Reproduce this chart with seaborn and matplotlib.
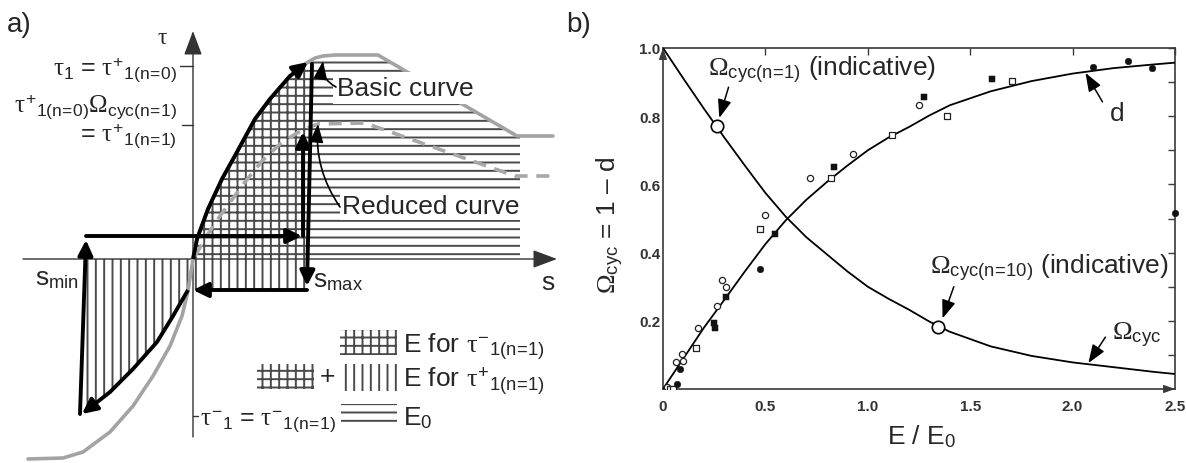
import matplotlib
matplotlib.use("Agg")
import matplotlib.pyplot as plt
import seaborn as sns
import pandas as pd

# ======================= DATA =======================
# ---- Panel a: schematic bond-slip loop (diagram units: s, tau) ----
basic_s   = [-1.65, -1.30, -1.10, -0.83, -0.60, -0.40, -0.23, -0.11, -0.05, 0.00, 0.04, 0.15, 0.29,
             0.44, 0.62, 0.77, 0.97, 1.07, 1.15, 1.22, 1.30, 1.42, 1.85, 3.24, 3.60]
basic_tau = [-2.00, -1.99, -1.93, -1.73, -1.47, -1.17, -0.87, -0.57, -0.32, 0.00, 0.20, 0.50, 0.80,
             1.07, 1.40, 1.60, 1.83, 1.91, 1.97, 2.01, 2.03, 2.04, 2.04, 1.23, 1.23]
reduced_s   = [0.02, 0.15, 0.27, 0.52, 0.69, 0.87, 1.04, 1.17, 1.25, 1.72, 3.22, 3.60]
reduced_tau = [0.03, 0.25, 0.43, 0.77, 0.98, 1.15, 1.26, 1.32, 1.35, 1.36, 0.83, 0.83]
loading_s   = [0.00, 0.04, 0.15, 0.29, 0.44, 0.62, 0.77, 0.97, 1.15]
loading_tau = [0.00, 0.20, 0.50, 0.80, 1.07, 1.40, 1.60, 1.83, 1.97]
unloading_s   = [-0.05, -0.20, -0.36, -0.60, -0.83, -1.11]
unloading_tau = [-0.31, -0.57, -0.83, -1.10, -1.33, -1.55]
S_PEAK, TAU_PEAK = 1.19, 1.95
S_MAX, TAU_SMAX = 1.14, -0.31
S_MIN_BOT, S_MIN_TOP = -1.13, -1.07
TAU_RELOAD, S_RELOAD, TAU_RELOAD_TOP = 0.23, 1.10, 1.27
TAU1, TAU1_N1, TAU_NEG = 1.93, 1.34, -1.57
E0_RIGHT = 3.27

# ---- Panel b: damage vs. normalised dissipated energy ----
x_curve = [0.0, 0.1, 0.2, 0.3, 0.4, 0.5, 0.6, 0.7, 0.8, 0.9, 1.0, 1.1, 1.2, 1.3, 1.4, 1.6, 1.8, 2.0,
           2.2, 2.4, 2.5]
omega_cyc = [1.0, 0.91, 0.822, 0.737, 0.655, 0.575, 0.505, 0.445, 0.395, 0.345, 0.30, 0.265, 0.233,
             0.198, 0.168, 0.125, 0.097, 0.078, 0.064, 0.050, 0.044]
d_curve = [0.0, 0.09, 0.18, 0.262, 0.345, 0.425, 0.495, 0.555, 0.607, 0.655, 0.70, 0.737, 0.768,
           0.802, 0.832, 0.873, 0.903, 0.925, 0.941, 0.952, 0.957]
open_circ_x = [0.02, 0.065, 0.091, 0.099, 0.172, 0.262, 0.287, 0.306, 0.497, 0.719, 0.93, 1.25]
open_circ_y = [0.005, 0.078, 0.103, 0.083, 0.178, 0.244, 0.319, 0.299, 0.51, 0.62, 0.69, 0.833]
open_sq_x = [0.035, 0.05, 0.161, 0.473, 0.82, 1.116, 1.387, 1.706]
open_sq_y = [0.0, 0.0, 0.12, 0.469, 0.62, 0.745, 0.80, 0.902]
fill_circ_x = [0.067, 0.083, 0.473, 2.102, 2.27, 2.387, 2.5]
fill_circ_y = [0.015, 0.059, 0.353, 0.943, 0.963, 0.941, 0.515]
fill_sq_x = [0.254, 0.251, 0.31, 0.546, 0.837, 1.273, 1.608]
fill_sq_y = [0.18, 0.195, 0.27, 0.456, 0.652, 0.856, 0.909]
mark_x = [0.265, 1.345]
mark_y = [0.77, 0.183]
xtick_vals = [0, 0.5, 1.0, 1.5, 2.0, 2.5]
xtick_labels = ["0", "0.5", "1.0", "1.5", "2.0", "2.5"]
ytick_vals = [0.2, 0.4, 0.6, 0.8, 1.0]
ytick_labels = ["0.2", "0.4", "0.6", "0.8", "1.0"]
ytick_minor = [0.1, 0.3, 0.5, 0.7, 0.9]

# ======================= STYLE =======================
sns.set_theme(style="white")
plt.rcParams["font.family"] = ["Liberation Sans", "DejaVu Sans"]
plt.rcParams["mathtext.fontset"] = "custom"
plt.rcParams["mathtext.rm"] = "Liberation Serif"
plt.rcParams["mathtext.it"] = "Liberation Serif"
plt.rcParams["mathtext.sf"] = "Liberation Sans"
plt.rcParams["mathtext.bf"] = "Liberation Sans:bold"
plt.rcParams["hatch.linewidth"] = 1.4

FS = 19
FSL = 18
fig = plt.figure(figsize=(11.86, 4.64), dpi=100)


def sub(txt):
    """sans-serif sub/superscript content with a tight '=' sign"""
    return r"\mathsf{" + txt.replace("=", r"\!=\!") + "}"


def arrow(ax, start, end, lw, ms=20, hl=0.45, hw=0.22, color="black", conn="arc3", z=6):
    ax.annotate("", xy=end, xytext=start, xycoords="data", textcoords="data",
                arrowprops=dict(arrowstyle=f"-|>,head_length={hl},head_width={hw}",
                                color=color, lw=lw, shrinkA=0, shrinkB=0,
                                mutation_scale=ms, connectionstyle=conn),
                zorder=z)


# ======================= PANEL A =======================
ax = fig.add_axes([0, 0, 560 / 1186, 1])
ax.set_xlim(-1.93, 3.67)
ax.set_ylim(-2.04, 2.60)
ax.axis("off")

HC = "#4a4a4a"
# hatched areas
ax.fill(loading_s + [loading_s[-1], loading_s[-1]], loading_tau + [loading_tau[-1], 0],
        facecolor="none", edgecolor=HC, hatch="++", linewidth=0, zorder=1)
ax.fill([S_MIN_TOP, S_MAX, S_MAX] + unloading_s + [S_MIN_BOT],
        [0, 0, TAU_SMAX] + unloading_tau + [unloading_tau[-1]],
        facecolor="none", edgecolor=HC, hatch="||", linewidth=0, zorder=1)
top_pts = [(s, t) for s, t in zip(basic_s, basic_tau) if loading_s[-1] <= s <= 3.24]
ax.fill([loading_s[-1]] + [p[0] for p in top_pts] + [E0_RIGHT, E0_RIGHT],
        [0] + [p[1] for p in top_pts] + [top_pts[-1][1], 0],
        facecolor="none", edgecolor=HC, hatch="--", linewidth=0, zorder=1)

# axes of the diagram
arrow(ax, (-1.70, 0), (3.64, 0), lw=1.0, ms=20, hl=0.75, hw=0.28, color="#333333", z=2)
arrow(ax, (0, -1.78), (0, 2.28), lw=1.0, ms=20, hl=0.75, hw=0.28, color="#333333", z=2)
ax.plot([-0.13, 0], [TAU1, TAU1], color="#333333", lw=1.0)
ax.plot([-0.11, 0], [TAU1_N1, TAU1_N1], color="#333333", lw=1.0)
ax.plot([0, 0.05], [TAU_NEG, TAU_NEG], color="#333333", lw=1.0)

# basic and reduced curves
sns.lineplot(x=basic_s, y=basic_tau, sort=False, ax=ax, color="#a3a3a3", lw=2.6,
             solid_joinstyle="round", zorder=2)
ax.plot(reduced_s, reduced_tau, color="#a8a8a8", lw=2.6, dashes=(3.6, 2.4), zorder=2)

# black loading loop
BLW = 2.8
ax.plot(loading_s[:-1], loading_tau[:-1], color="black", lw=BLW, solid_capstyle="butt", zorder=5)
arrow(ax, (loading_s[-2], loading_tau[-2]), (loading_s[-1], loading_tau[-1]), lw=BLW)
arrow(ax, (S_PEAK, TAU_PEAK), (S_MAX, TAU_SMAX + 0.04), lw=BLW)
arrow(ax, (S_MAX, TAU_SMAX), (0.0, TAU_SMAX), lw=BLW)
ax.plot(unloading_s[:-1], unloading_tau[:-1], color="black", lw=BLW, solid_capstyle="butt", zorder=5)
arrow(ax, (unloading_s[-2], unloading_tau[-2]), (unloading_s[-1], unloading_tau[-1]), lw=BLW)
arrow(ax, (S_MIN_BOT, unloading_tau[-1]), (S_MIN_TOP, TAU_RELOAD - 0.04), lw=BLW)
arrow(ax, (S_MIN_TOP, TAU_RELOAD), (S_RELOAD - 0.01, TAU_RELOAD), lw=BLW)
arrow(ax, (S_RELOAD, TAU_RELOAD), (S_RELOAD, TAU_RELOAD_TOP), lw=BLW)

# labels
ax.text(-0.31, 2.22, r"$\tau$", fontsize=17, ha="center", va="center")
ax.text(-0.16, 1.85, r"$\tau_{\mathsf{1}}$ = $\tau^{\mathsf{+}}{}_{" + sub("1(n=0)") + "}$",
        fontsize=FSL, ha="right", va="baseline")
ax.text(-0.16, 1.48, r"$\tau^{\mathsf{+}}{}_{" + sub("1(n=0)") + r"}\Omega_{" + sub("cyc(n=1)") + "}$",
        fontsize=FSL, ha="right", va="baseline")
ax.text(-0.16, 1.19, r"= $\tau^{\mathsf{+}}{}_{" + sub("1(n=1)") + "}$",
        fontsize=FSL, ha="right", va="baseline")
ax.text(0.07, -1.65, r"$\tau^{\mathsf{-}}{}_{\mathsf{1}}$ = $\tau^{\mathsf{-}}{}_{" + sub("1(n=1)") + "}$",
        fontsize=FSL, ha="left", va="baseline")
ax.text(-1.58, -0.25, r"s$_{\mathsf{min}}$", fontsize=FS, ha="left", va="baseline")
ax.text(1.20, -0.27, r"s$_{\mathsf{max}}$", fontsize=FS, ha="left", va="baseline")
ax.text(3.48, -0.30, "s", fontsize=FS, ha="left", va="baseline")

ax.text(1.44, 1.71, "Basic curve", fontsize=FS, ha="left", va="center", zorder=4,
        bbox=dict(boxstyle="square,pad=0.14", fc="white", ec="none"))
ax.text(1.49, 0.53, "Reduced curve", fontsize=FS, ha="left", va="center", zorder=4,
        bbox=dict(boxstyle="square,pad=0.08", fc="white", ec="none"))
arrow(ax, (1.43, 1.72), (1.30, 1.98), lw=1.2, ms=14, hl=0.8, hw=0.3, conn="arc3,rad=-0.35")
arrow(ax, (1.47, 0.52), (1.25, 1.35), lw=1.2, ms=14, hl=0.8, hw=0.3, conn="arc3,rad=-0.18")

# legend swatches
ax.fill([1.47, 2.04, 2.04, 1.47], [-0.71, -0.71, -0.96, -0.96], facecolor="none", edgecolor=HC,
        hatch="++", linewidth=0)
ax.fill([0.64, 1.21, 1.21, 0.64], [-1.05, -1.05, -1.30, -1.30], facecolor="none", edgecolor=HC,
        hatch="++", linewidth=0)
ax.fill([1.48, 2.04, 2.04, 1.48], [-1.05, -1.05, -1.32, -1.32], facecolor="none", edgecolor=HC,
        hatch="||", linewidth=0)
ax.fill([1.48, 2.04, 2.04, 1.48], [-1.45, -1.45, -1.68, -1.68], facecolor="none", edgecolor=HC,
        hatch="--", linewidth=0)
ax.text(1.34, -1.17, "+", fontsize=FS, ha="center", va="center")
ax.text(2.10, -0.93, r"E for $\tau^{\mathsf{-}}{}_{" + sub("1(n=1)") + "}$", fontsize=FS,
        ha="left", va="baseline")
ax.text(2.10, -1.27, r"E for $\tau^{\mathsf{+}}{}_{" + sub("1(n=1)") + "}$", fontsize=FS,
        ha="left", va="baseline")
ax.text(2.10, -1.65, r"E$_{\mathsf{0}}$", fontsize=FS, ha="left", va="baseline")

fig.text(7 / 1186, 1 - 25 / 464, "a)", fontsize=20, ha="left", va="center")
fig.text(566 / 1186, 1 - 25 / 464, "b)", fontsize=20, ha="left", va="center")

# ======================= PANEL B =======================
bx = fig.add_axes([663 / 1186, (464 - 390) / 464, 512 / 1186, 341 / 464])
bx.set_xlim(0, 2.5)
bx.set_ylim(0, 1.0)
FC = "#3a3a3a"
for sp in bx.spines.values():
    sp.set_color(FC)
    sp.set_linewidth(1.2)

sns.lineplot(x=x_curve, y=omega_cyc, ax=bx, color="black", lw=1.3, zorder=3)
sns.lineplot(x=x_curve, y=d_curve, ax=bx, color="black", lw=1.3, zorder=3)
sns.scatterplot(x=open_circ_x, y=open_circ_y, ax=bx, marker="o", s=20, facecolor="white",
                edgecolor="#222222", linewidth=0.9, zorder=4)
sns.scatterplot(x=open_sq_x, y=open_sq_y, ax=bx, marker="s", s=16, facecolor="white",
                edgecolor="#222222", linewidth=0.9, zorder=4)
sns.scatterplot(x=fill_circ_x, y=fill_circ_y, ax=bx, marker="o", s=22, color="#111111",
                edgecolor="#111111", zorder=4, clip_on=False)
sns.scatterplot(x=fill_sq_x, y=fill_sq_y, ax=bx, marker="s", s=20, color="#111111",
                edgecolor="#111111", zorder=4)
sns.scatterplot(x=mark_x, y=mark_y, ax=bx, marker="o", s=80, facecolor="white",
                edgecolor="black", linewidth=1.2, zorder=5)

bx.set_xticks(xtick_vals)
bx.set_xticklabels(xtick_labels)
bx.set_yticks(ytick_vals)
bx.set_yticklabels(ytick_labels)
bx.set_yticks(ytick_minor, minor=True)
bx.tick_params(axis="both", which="both", direction="in", top=True, right=True, color=FC,
               width=1.0, labelcolor="#333333", labelsize=11)
bx.tick_params(axis="both", which="major", length=5)
bx.tick_params(axis="both", which="minor", length=5)
bx.tick_params(axis="x", pad=7)
bx.tick_params(axis="y", pad=2)
for lab in bx.get_xticklabels() + bx.get_yticklabels():
    lab.set_fontweight("bold")
bx.set_xlabel("")
bx.set_ylabel("")

# axis arrowheads
arrow(bx, (0, 0.97), (0, 1.0), lw=0.8, ms=10, hl=0.7, hw=0.25, color=FC)
arrow(bx, (2.47, 0), (2.5, 0), lw=0.8, ms=10, hl=0.7, hw=0.25, color=FC)

bx.text(-0.102, 0.484, r"$\Omega_{\mathsf{cyc}}$ = 1 – d", fontsize=FS, rotation=90,
        ha="center", va="center", transform=bx.transAxes)
bx.text(0.504, -0.138, r"E / E$_{\mathsf{0}}$", fontsize=FS, ha="center", va="center",
        transform=bx.transAxes)

bx.text(0.222, 0.936, r"$\Omega_{" + sub("cyc(n=1)") + "}$ (indicative)", fontsize=FS,
        ha="left", va="center")
bx.text(1.303, 0.355, r"$\Omega_{" + sub("cyc(n=10)") + "}$ (indicative)", fontsize=FS,
        ha="left", va="center")
bx.text(2.193, 0.160, r"$\Omega_{\mathsf{cyc}}$", fontsize=FS, ha="left", va="center")
bx.text(2.18, 0.81, "d", fontsize=FS, ha="left", va="center")
arrow(bx, (0.32, 0.885), (0.275, 0.795), lw=1.1, ms=14, hl=0.8, hw=0.3)
arrow(bx, (1.42, 0.300), (1.365, 0.207), lw=1.1, ms=14, hl=0.8, hw=0.3)
arrow(bx, (2.16, 0.152), (2.077, 0.076), lw=1.1, ms=14, hl=0.8, hw=0.3)
arrow(bx, (2.146, 0.842), (2.063, 0.927), lw=1.1, ms=14, hl=0.8, hw=0.3)

fig.savefig("out.png", dpi=100)
